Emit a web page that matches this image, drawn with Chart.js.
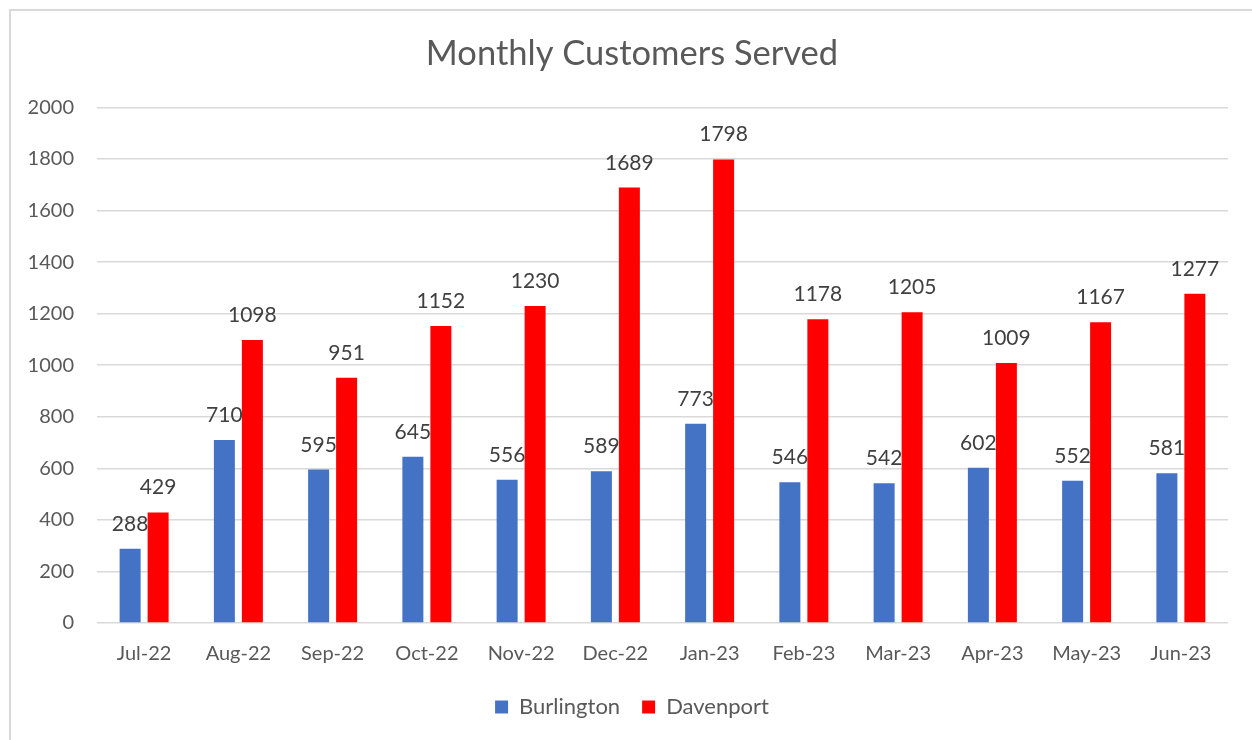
<!DOCTYPE html>
<html>
<head>
<meta charset="utf-8">
<script src="https://cdn.jsdelivr.net/npm/chart.js@4/dist/chart.umd.min.js"></script>
<style>
  html, body { margin: 0; padding: 0; background: #fff; }
  #wrap { position: relative; width: 1252px; height: 740px; overflow: hidden; }
  #frame { position: absolute; left: 9px; top: 9px; width: 1300px; height: 800px;
           border: 2px solid #d9d9d9; box-sizing: border-box; }
  #chart { position: absolute; left: 0; top: 0; }
</style>
</head>
<body>
<div id="wrap">
  <div id="frame"></div>
  <canvas id="chart" width="1264" height="740"></canvas>
</div>
<script>
const months = ["Jul-22", "Aug-22", "Sep-22", "Oct-22", "Nov-22", "Dec-22",
                "Jan-23", "Feb-23", "Mar-23", "Apr-23", "May-23", "Jun-23"];
const burlington = [288, 710, 595, 645, 556, 589, 773, 546, 542, 602, 552, 581];
const davenport = [429, 1098, 951, 1152, 1230, 1689, 1798, 1178, 1205, 1009, 1167, 1277];

const fontName = "Lato, 'Open Sans', sans-serif";
const textGrey = "#595959";

// etiquetas de valor sobre cada barra
const barLabels = {
  id: "barLabels",
  afterDatasetsDraw(chart) {
    const ctx = chart.ctx;
    ctx.save();
    ctx.font = "21px " + fontName;
    ctx.fillStyle = "#404040";
    ctx.textAlign = "center";
    ctx.textBaseline = "alphabetic";
    chart.data.datasets.forEach((ds, i) => {
      chart.getDatasetMeta(i).data.forEach((bar, j) => {
        ctx.fillText(ds.data[j], bar.x, bar.y - 18);
      });
    });
    ctx.restore();
  },
};

new Chart(document.getElementById("chart"), {
  type: "bar",
  data: {
    labels: months,
    datasets: [
      {
        label: "Burlington",
        data: burlington,
        backgroundColor: "#4472C4",
        categoryPercentage: 0.594,
        barPercentage: 0.75,
      },
      {
        label: "Davenport",
        data: davenport,
        backgroundColor: "#FF0000",
        categoryPercentage: 0.594,
        barPercentage: 0.75,
      },
    ],
  },
  options: {
    responsive: false,
    animation: false,
    layout: { padding: { left: 0, right: 0, top: 0, bottom: 12 } },
    plugins: {
      title: {
        display: true,
        text: "Monthly Customers Served",
        color: textGrey,
        font: { family: fontName, size: 34.5, weight: "normal" },
        padding: { top: 33, bottom: 33 },
      },
      legend: {
        position: "bottom",
        labels: {
          color: textGrey,
          font: { family: fontName, size: 22 },
          boxWidth: 13,
          boxHeight: 13,
          padding: 22,
        },
      },
      tooltip: { enabled: false },
    },
    scales: {
      x: {
        grid: { display: false },
        border: { display: false },
        ticks: { color: textGrey, font: { family: fontName, size: 20 }, padding: 11, maxRotation: 0 },
        afterFit(scale) { scale.height = 51; },
      },
      y: {
        min: 0,
        max: 2000,
        ticks: {
          stepSize: 200,
          color: textGrey,
          font: { family: fontName, size: 20 },
          padding: 23,
          callback: (v) => String(v),
        },
        grid: { color: "#d9d9d9", lineWidth: 1.5, drawTicks: false },
        border: { display: false },
        afterFit(scale) { scale.width = 97; },
      },
      // eje vacío a la derecha, solo para dejar margen
      margin: {
        type: "linear",
        position: "right",
        grid: { display: false },
        border: { display: false },
        ticks: { display: false },
        afterFit(scale) { scale.width = 36; },
      },
    },
  },
  plugins: [barLabels],
});
</script>
</body>
</html>
